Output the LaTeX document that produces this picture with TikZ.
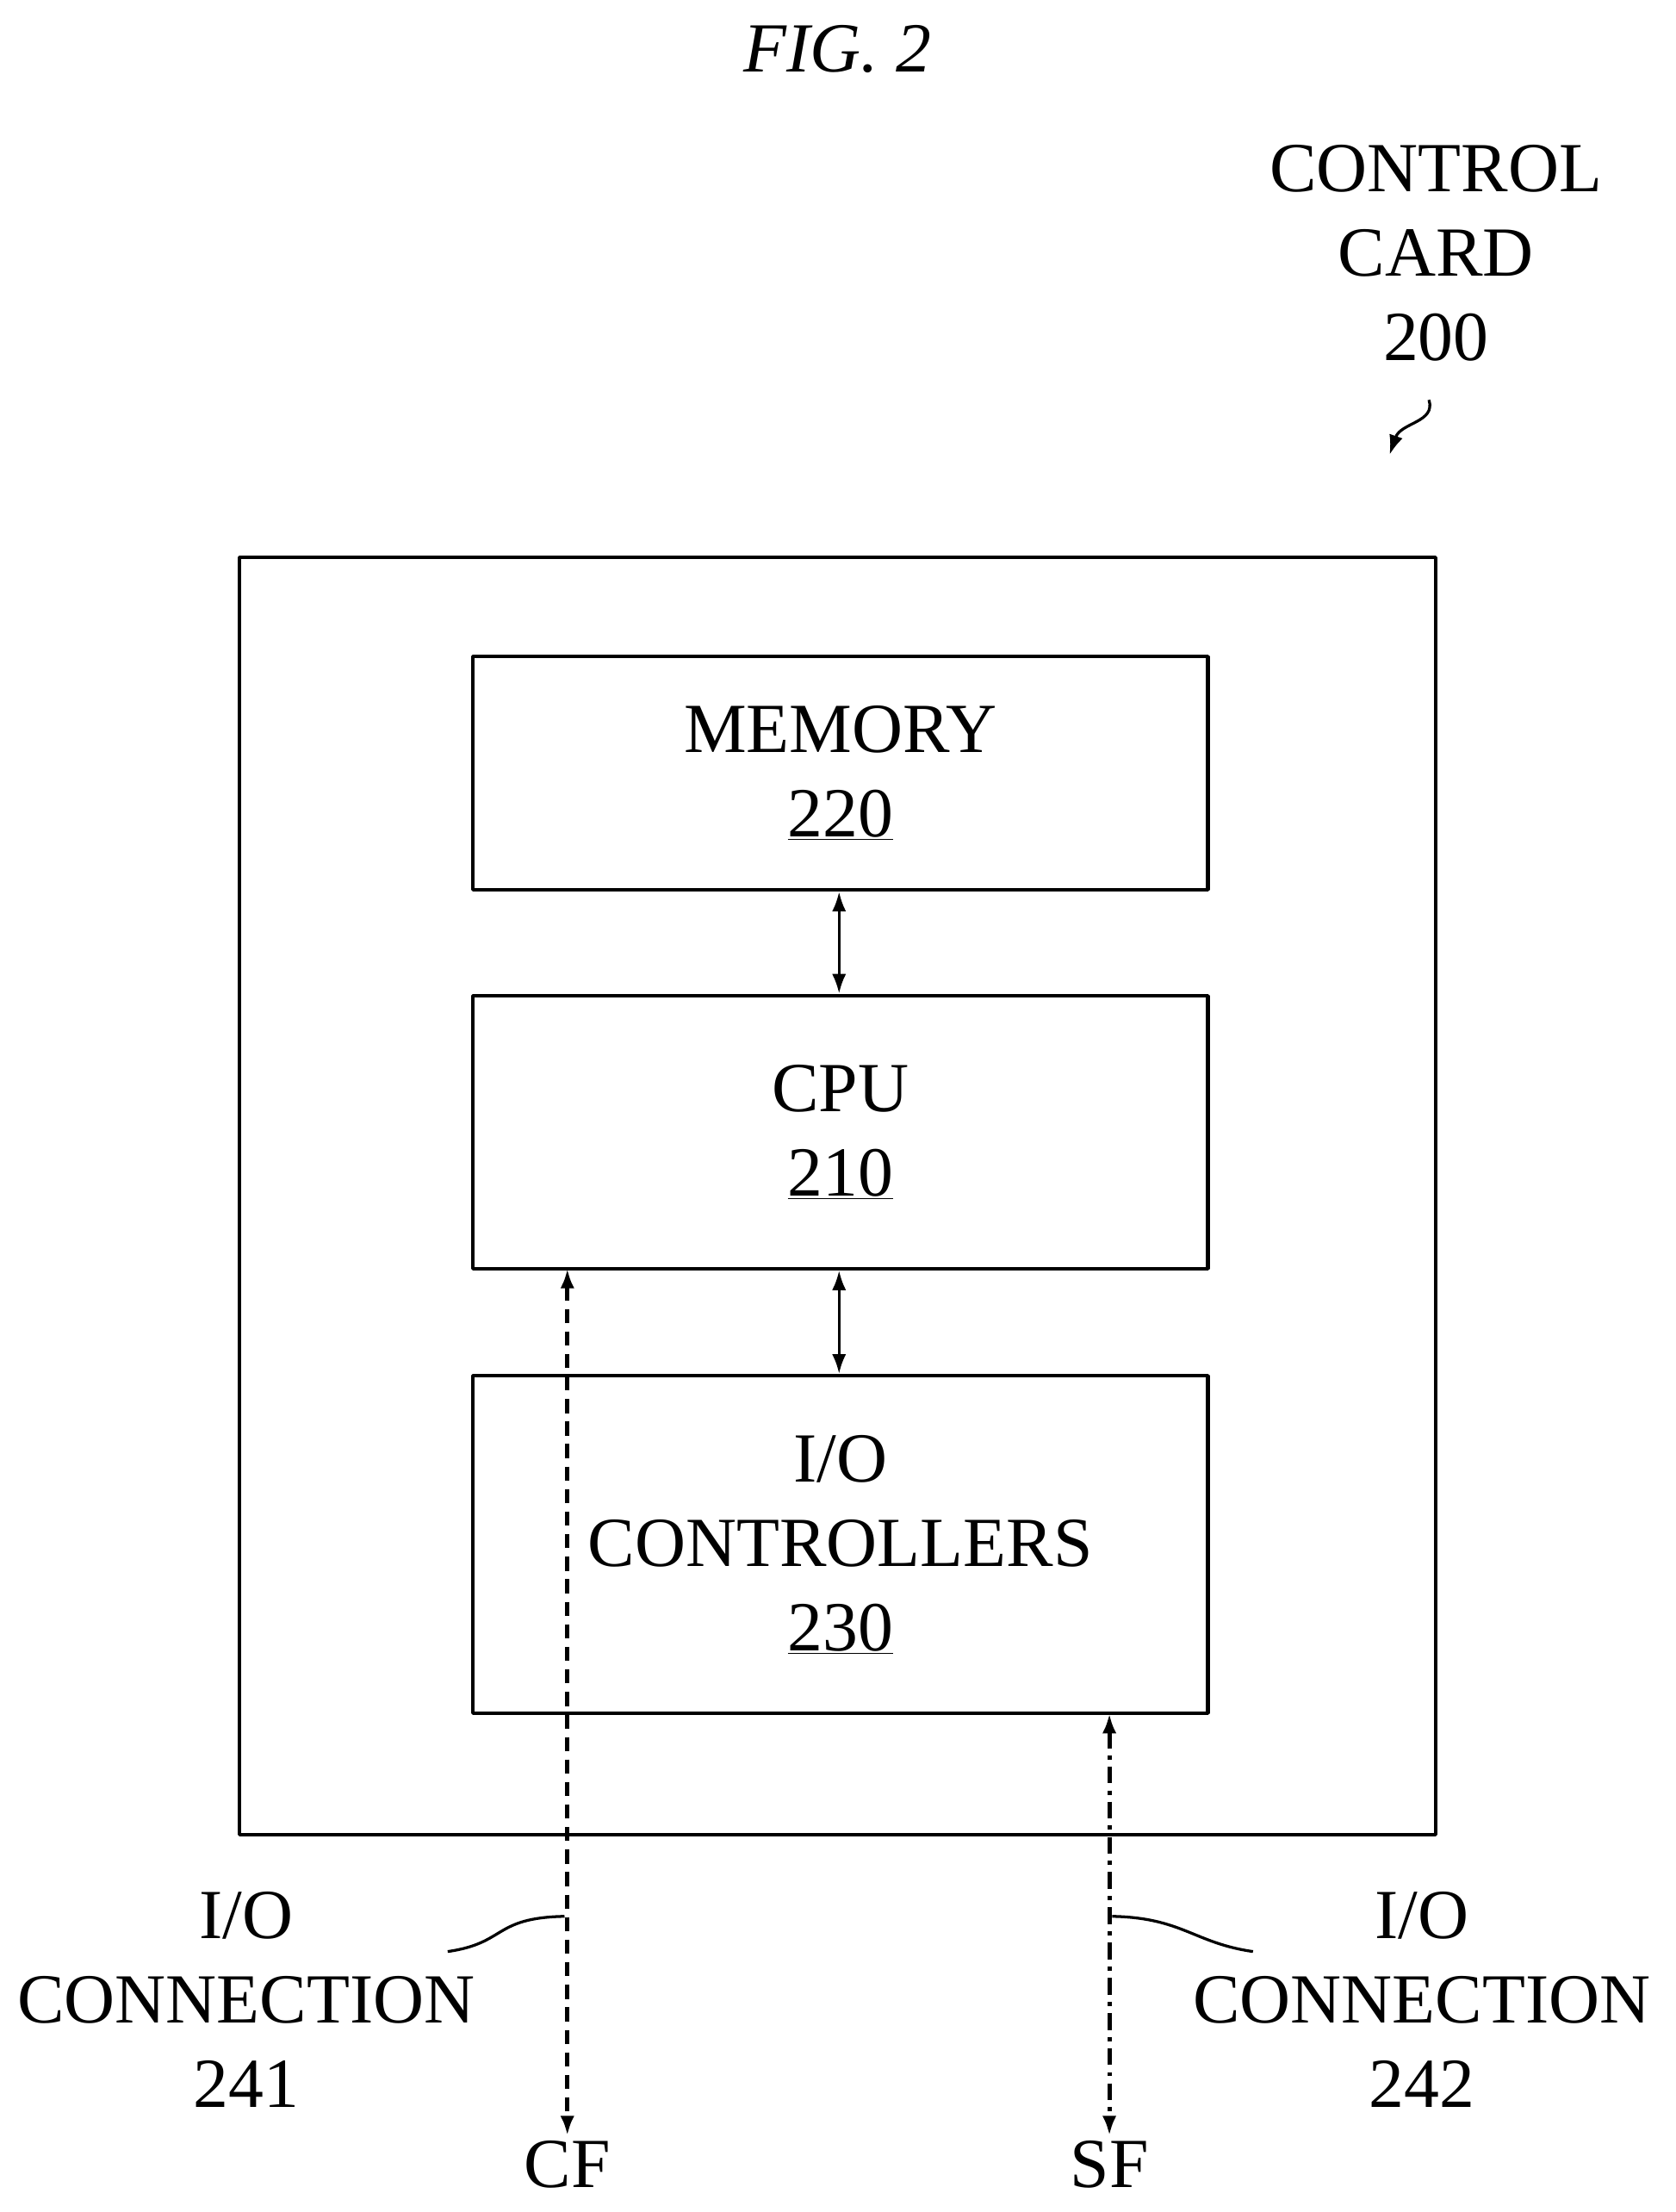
\documentclass[tikz,border=0pt]{standalone}
\usepackage{fontspec}
\setmainfont{Liberation Serif}
\usetikzlibrary{positioning,arrows.meta}
\tikzset{
  box/.style={draw, line width=2.6pt, inner sep=0pt},
  lbl/.style={font=\fontsize{50}{60}\selectfont, align=center},
  bus/.style={line width=2pt},
}
\begin{document}
\begin{tikzpicture}[>={Latex[length=14pt,width=10pt]}, x=1pt, y=-1pt, line join=bevel]
  \useasboundingbox (0,0) rectangle (1190,1571);
  % Title
  \node[lbl, font=\fontsize{50}{60}\selectfont\itshape] (fig) at (595,35) {FIG. 2};
  % Card label
  \node[lbl] (cardlbl) at (1020,180) {CONTROL\\CARD\\200};
  \coordinate (cardtip) at (987,323);
  \draw[->, bus] (1015,284) .. controls (1020,300) and (995,300) .. (cardtip);
  % Boxes
  \node[box, minimum width=850pt, minimum height=907pt] (card) at (595,849.5) {};
  \node[box, lbl, minimum width=522pt, minimum height=166pt] (mem) at (597,549) {MEMORY\\\underline{220}};
  \node[box, lbl, minimum width=522pt, minimum height=194pt] (cpu) at (597,804) {CPU\\\underline{210}};
  \node[box, lbl, minimum width=522pt, minimum height=240pt] (ioc) at (597,1097) {I/O\\CONTROLLERS\\\underline{230}};
  % Internal buses
  \draw[<->, bus] (mem.south) ++(-1,0) -- (cpu.north -| 596,0);
  \draw[<->, bus] (cpu.south) ++(-1,0) -- (ioc.north -| 596,0);
  % External connections
  \node[lbl] (cf) at (403,1537) {CF};
  \node[lbl] (sf) at (788,1537) {SF};
  \coordinate (cftop) at (403,901);
  \coordinate (sftop) at (788,1217);
  \draw[<->, line width=3pt, dash pattern=on 10pt off 6pt] (cftop) -- (cf.north);
  \draw[<->, line width=3pt, dash pattern=on 12pt off 5pt on 3pt off 5pt] (sftop) -- (sf.north);
  % Connection labels
  \node[lbl] (con241) at (175,1420) {I/O\\CONNECTION\\241};
  \node[lbl] (con242) at (1010,1420) {I/O\\CONNECTION\\242};
  \draw[bus] (318,1386) .. controls (360,1380) and (350,1362) .. (401,1361);
  \draw[bus] (890,1386) .. controls (848,1380) and (840,1362) .. (790,1361);
\end{tikzpicture}
\end{document}
